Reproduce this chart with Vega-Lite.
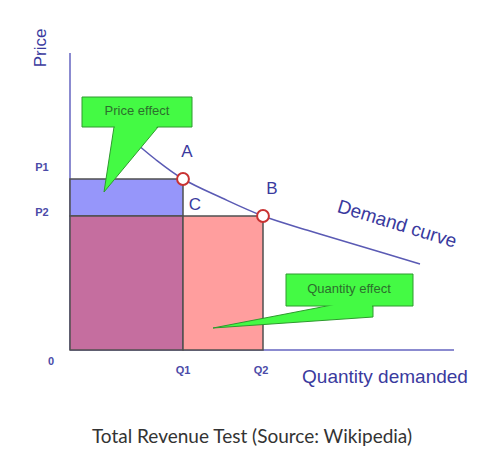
{
  "$schema": "https://vega.github.io/schema/vega-lite/v6.json",
  "width": 504,
  "height": 400,
  "autosize": {"type": "none"},
  "padding": {"left": 0, "right": 0, "top": 0, "bottom": 61},
  "background": "white",
  "config": {"view": {"stroke": null}, "font": "Liberation Sans"},
  "title": {
    "text": "Total Revenue Test (Source: Wikipedia)",
    "orient": "bottom",
    "anchor": "middle",
    "frame": "group",
    "offset": 37,
    "baseline": "middle",
    "font": "Lato",
    "fontSize": 19,
    "fontWeight": "normal",
    "color": "#333333"
  },
  "datasets": {
    "rects": [
      {"part": "Price gain", "q0": 0, "q1": 11.3, "p0": 13.4, "p1": 17.1},
      {"part": "Kept revenue", "q0": 0, "q1": 11.3, "p0": 0, "p1": 13.4},
      {"part": "Quantity gain", "q0": 11.3, "q1": 19.3, "p0": 0, "p1": 13.4}
    ],
    "axes": [
      {"x": 0, "x2": 0, "y": 0, "y2": 29.7},
      {"x": 0, "x2": 38.4, "y": 0, "y2": 0}
    ],
    "curve": [
      {"q": 6.0, "p": 21.2},
      {"q": 8.5, "p": 19.1},
      {"q": 11.3, "p": 17.1},
      {"q": 15.2, "p": 15.2},
      {"q": 19.3, "p": 13.4},
      {"q": 24.0, "p": 11.9},
      {"q": 29.0, "p": 10.4},
      {"q": 35.0, "p": 8.6}
    ],
    "points": [
      {"name": "A", "q": 11.3, "p": 17.1},
      {"name": "B", "q": 19.3, "p": 13.4}
    ],
    "boxes": [
      {"box": "price", "x": 1.2, "x2": 12.2, "y": 22.3, "y2": 25.3},
      {"box": "quantity", "x": 21.6, "x2": 34.3, "y": 4.4, "y2": 7.6}
    ],
    "pointers": [
      {"box": "price", "y": 22.3, "x": 4.4, "x2": 8.8},
      {"box": "price", "y": 15.8, "x": 3.4, "x2": 3.4},
      {"box": "quantity", "y": 4.4, "x": 25.7, "x2": 30.3},
      {"box": "quantity", "y": 3.3, "x": 20.0, "x2": 30.3},
      {"box": "quantity", "y": 2.2, "x": 14.3, "x2": 14.3}
    ],
    "covers": [
      {"box": "price", "y": 22.45, "x": 4.5, "x2": 8.8},
      {"box": "price", "y": 21.0, "x": 4.29, "x2": 7.6},
      {"box": "quantity", "y": 4.55, "x": 26.6, "x2": 30.2},
      {"box": "quantity", "y": 4.15, "x": 24.8, "x2": 30.2}
    ],
    "tickLabels": [
      {"t": "0", "x": -1.9, "y": -1.2},
      {"t": "P1", "x": -2.8, "y": 18.2},
      {"t": "P2", "x": -2.8, "y": 13.7},
      {"t": "Q1", "x": 11.3, "y": -2.1},
      {"t": "Q2", "x": 19.1, "y": -2.1}
    ],
    "pointLabels": [
      {"t": "A", "x": 11.7, "y": 19.8},
      {"t": "B", "x": 20.2, "y": 16.1},
      {"t": "C", "x": 12.5, "y": 14.5}
    ],
    "calloutLabels": [
      {"t": "Price effect", "x": 6.7, "y": 23.9},
      {"t": "Quantity effect", "x": 27.9, "y": 6.1}
    ]
  },
  "layer": [
    {
      "data": {"name": "axes"},
      "mark": {"type": "rule", "color": "#6464c0", "strokeWidth": 1.5},
      "encoding": {
        "x": {"field": "x", "type": "quantitative", "scale": {"domain": [-7, 43.4], "nice": false, "zero": false}, "axis": null},
        "x2": {"field": "x2"},
        "y": {"field": "y", "type": "quantitative", "scale": {"domain": [-5, 35], "nice": false, "zero": false}, "axis": null},
        "y2": {"field": "y2"}
      }
    },
    {
      "data": {"name": "rects"},
      "mark": {"type": "rect", "stroke": "#505050", "strokeWidth": 1.5, "opacity": 1},
      "encoding": {
        "x": {"field": "q0", "type": "quantitative"},
        "x2": {"field": "q1"},
        "y": {"field": "p0", "type": "quantitative"},
        "y2": {"field": "p1"},
        "color": {"field": "part", "type": "nominal", "legend": null,
          "scale": {"domain": ["Price gain", "Kept revenue", "Quantity gain"], "range": ["#9696fa", "#c56e9f", "#ff9e9e"]}}
      }
    },
    {
      "data": {"name": "curve"},
      "mark": {"type": "line", "color": "#5a5ab4", "strokeWidth": 1.5, "interpolate": "catmull-rom"},
      "encoding": {
        "x": {"field": "q", "type": "quantitative"},
        "y": {"field": "p", "type": "quantitative"}
      }
    },
    {
      "data": {"name": "points"},
      "mark": {"type": "point", "shape": "circle", "filled": false, "fill": "white", "fillOpacity": 1, "stroke": "#c83232", "strokeWidth": 2, "size": 140, "opacity": 1},
      "encoding": {
        "x": {"field": "q", "type": "quantitative"},
        "y": {"field": "p", "type": "quantitative"}
      }
    },
    {
      "data": {"name": "pointers"},
      "mark": {"type": "area", "orient": "horizontal", "color": "#44fa44", "stroke": "#2e9a2e", "strokeWidth": 1, "opacity": 1},
      "encoding": {
        "y": {"field": "y", "type": "quantitative"},
        "x": {"field": "x", "type": "quantitative"},
        "x2": {"field": "x2"},
        "detail": {"field": "box"}
      }
    },
    {
      "data": {"name": "boxes"},
      "mark": {"type": "rect", "color": "#44fa44", "stroke": "#2e9a2e", "strokeWidth": 1},
      "encoding": {
        "x": {"field": "x", "type": "quantitative"},
        "x2": {"field": "x2"},
        "y": {"field": "y", "type": "quantitative"},
        "y2": {"field": "y2"}
      }
    },
    {
      "data": {"name": "covers"},
      "mark": {"type": "area", "orient": "horizontal", "color": "#44fa44", "opacity": 1},
      "encoding": {
        "y": {"field": "y", "type": "quantitative"},
        "x": {"field": "x", "type": "quantitative"},
        "x2": {"field": "x2"},
        "detail": {"field": "box"}
      }
    },
    {
      "data": {"name": "tickLabels"},
      "mark": {"type": "text", "fontSize": 11, "fontWeight": "bold", "color": "#4b4ba8", "align": "center", "baseline": "middle"},
      "encoding": {
        "x": {"field": "x", "type": "quantitative"},
        "y": {"field": "y", "type": "quantitative"},
        "text": {"field": "t"}
      }
    },
    {
      "data": {"name": "pointLabels"},
      "mark": {"type": "text", "fontSize": 17, "color": "#3a3a9e", "align": "center", "baseline": "middle"},
      "encoding": {
        "x": {"field": "x", "type": "quantitative"},
        "y": {"field": "y", "type": "quantitative"},
        "text": {"field": "t"}
      }
    },
    {
      "data": {"name": "calloutLabels"},
      "mark": {"type": "text", "fontSize": 13, "color": "#2d6e2d", "align": "center", "baseline": "middle"},
      "encoding": {
        "x": {"field": "x", "type": "quantitative"},
        "y": {"field": "y", "type": "quantitative"},
        "text": {"field": "t"}
      }
    },
    {
      "data": {"values": [{"t": "Price", "x": -2.9, "y": 30.2}]},
      "mark": {"type": "text", "fontSize": 17, "angle": 270, "color": "#3a3a9e", "align": "center", "baseline": "middle"},
      "encoding": {
        "x": {"field": "x", "type": "quantitative"},
        "y": {"field": "y", "type": "quantitative"},
        "text": {"field": "t"}
      }
    },
    {
      "data": {"values": [{"t": "Quantity demanded", "x": 31.5, "y": -2.7}]},
      "mark": {"type": "text", "fontSize": 19, "color": "#3a3a9e", "align": "center", "baseline": "middle"},
      "encoding": {
        "x": {"field": "x", "type": "quantitative"},
        "y": {"field": "y", "type": "quantitative"},
        "text": {"field": "t"}
      }
    },
    {
      "data": {"values": [{"t": "Demand curve", "x": 32.7, "y": 12.6}]},
      "mark": {"type": "text", "fontSize": 19, "angle": 17, "color": "#3a3a9e", "align": "center", "baseline": "middle"},
      "encoding": {
        "x": {"field": "x", "type": "quantitative"},
        "y": {"field": "y", "type": "quantitative"},
        "text": {"field": "t"}
      }
    }
  ]
}
